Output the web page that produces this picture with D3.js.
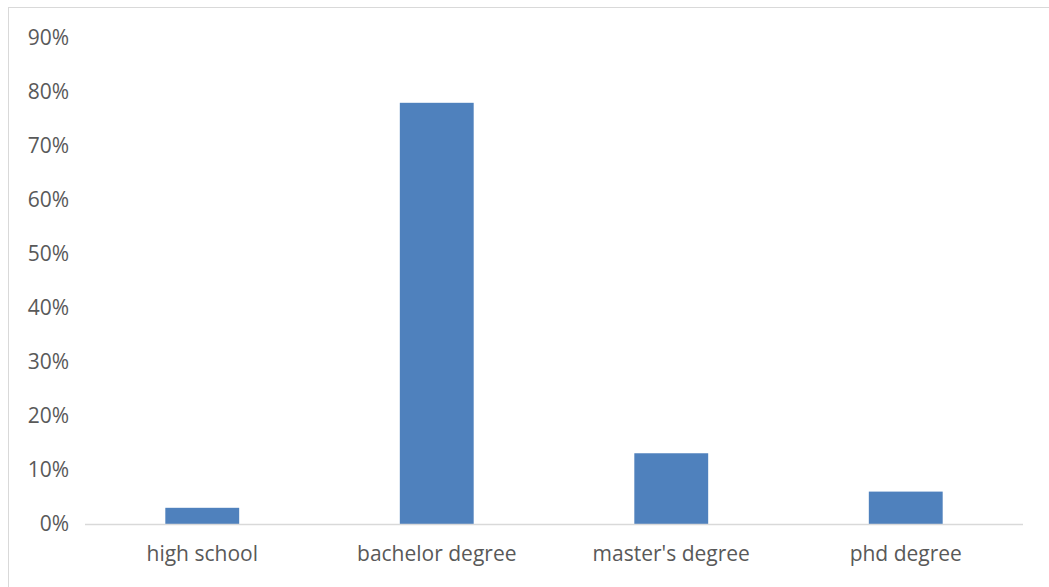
<!DOCTYPE html>
<html>
<head>
<meta charset="utf-8">
<script src="https://cdn.jsdelivr.net/npm/d3@7"></script>
<style>
  body { margin: 0; background: #fff; }
  text { font-family: "Open Sans", "Noto Sans", sans-serif; fill: #595959; }
</style>
</head>
<body>
<script>
// chart data
var categories = ["high school", "bachelor degree", "master's degree", "phd degree"];
var shares = [0.03, 0.78, 0.131, 0.06];
var tickValues = [0, 0.1, 0.2, 0.3, 0.4, 0.5, 0.6, 0.7, 0.8, 0.9];

var w = 1049, h = 587;

var svg = d3.select("body").append("svg")
  .attr("width", w)
  .attr("height", h);

// outer chart frame
svg.append("rect")
  .attr("x", 8.5)
  .attr("y", 7.5)
  .attr("width", w)
  .attr("height", h)
  .style("fill", "#fff")
  .style("stroke", "#d9d9d9");

var x = d3.scaleBand()
  .domain(categories)
  .range([85, 1023])
  .paddingInner(0.685)
  .paddingOuter(0.3425);

var y = d3.scaleLinear()
  .domain([0, 0.9])
  .range([524, 38]);

// y tick labels (no axis line)
svg.selectAll(".ytick")
  .data(tickValues)
  .enter()
  .append("text")
  .attr("class", "ytick")
  .attr("x", 69)
  .attr("y", function(d){ return y(d); })
  .attr("dy", "0.35em")
  .attr("text-anchor", "end")
  .style("font-size", "21px")
  .text(d3.format(".0%"));

// bars
svg.selectAll(".bar")
  .data(shares)
  .enter()
  .append("rect")
  .attr("class", "bar")
  .attr("x", function(d, i){ return x(categories[i]); })
  .attr("y", function(d){ return y(d); })
  .attr("width", x.bandwidth())
  .attr("height", function(d){ return y(0) - y(d); })
  .style("fill", "#4f81bd");

// baseline
svg.append("line")
  .attr("x1", 85)
  .attr("x2", 1023)
  .attr("y1", y(0) + 0.5)
  .attr("y2", y(0) + 0.5)
  .style("stroke", "#d9d9d9")
  .style("stroke-width", 1.5);

// category labels
svg.selectAll(".xlabel")
  .data(categories)
  .enter()
  .append("text")
  .attr("class", "xlabel")
  .attr("x", function(d){ return x(d) + x.bandwidth() / 2; })
  .attr("y", 561)
  .attr("text-anchor", "middle")
  .style("font-size", "21px")
  .text(function(d){ return d; });
</script>
</body>
</html>
